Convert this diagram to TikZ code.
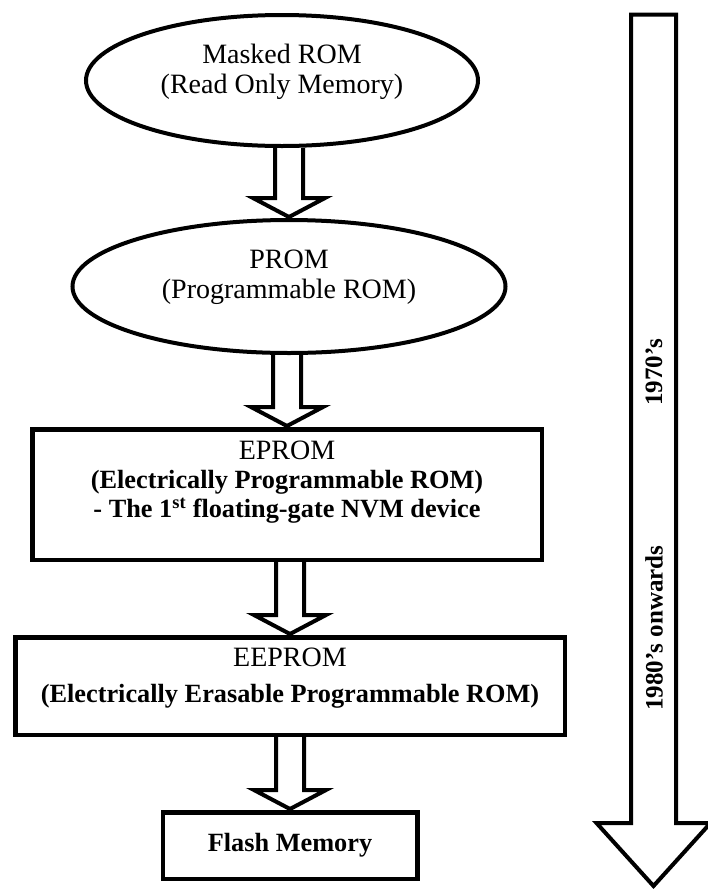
\documentclass[tikz,border=0pt]{standalone}
\usepackage{fontspec}
\setmainfont{Liberation Serif}
\usetikzlibrary{positioning,calc,shapes.geometric}

\newcommand{\bfline}[1]{{\fontsize{26.3}{28}\selectfont\bfseries #1}}
\newcommand{\downstrut}[1]{\rule[-#1]{0pt}{#1}}
% hollow block arrow from the bottom of #1 to the top of #2
\newcommand{\flowarrow}[2]{%
  \draw[hollowarrow] ($(#2.north |- #1.south)+(-14,0)$) -- ($(#2.north)+(-14,20)$)
    -- ($(#2.north)+(-36,20)$) -- ($(#2.north)+(0,1)$) -- ($(#2.north)+(36,20)$)
    -- ($(#2.north)+(14,20)$) -- ($(#2.north |- #1.south)+(14,0)$);}

\begin{document}
\begin{tikzpicture}[x=1pt,y=1pt,
    romshape/.style={ellipse, draw, line width=4pt, inner sep=2pt, align=center,
      font=\fontsize{28}{30}\selectfont},
    membox/.style={rectangle, draw, line width=4.5pt, inner sep=2pt, align=center,
      font=\fontsize{28}{28}\selectfont},
    hollowarrow/.style={line width=4pt, line join=miter},
    timeline/.style={draw, line width=4pt, line join=miter},
    erastext/.style={rotate=90, font=\fontsize{25}{25}\selectfont\bfseries}]

    \useasboundingbox (0,0) rectangle (708,-892);

    \node[romshape, minimum width=392pt, minimum height=131pt] (masked) at (282,-80.5)
        {Masked ROM\\(Read Only Memory)\downstrut{24pt}};
    \node[romshape, minimum width=433pt, minimum height=133pt, below=70pt of masked, xshift=7pt] (prom)
        {PROM\\(Programmable ROM)\downstrut{25.5pt}};
    \node[membox, minimum width=509.5pt, minimum height=130.5pt, below=72pt of prom, xshift=-2pt] (eprom)
        {EPROM\\[1pt]\bfline{(Electrically Programmable ROM)}\\[1pt]%
         \bfline{- The 1\textsuperscript{st} floating-gate NVM device}\downstrut{30.5pt}};
    \node[membox, minimum width=549.5pt, minimum height=97.5pt, below=73pt of eprom, xshift=3pt] (eeprom)
        {EEPROM\\[8pt]\bfline{(Electrically Erasable Programmable ROM)}\downstrut{22.5pt}};
    \node[membox, minimum width=254.5pt, minimum height=66.5pt, below=73pt of eeprom] (flash)
        {\bfline{Flash Memory}};

    \flowarrow{masked}{prom}
    \flowarrow{prom}{eprom}
    \flowarrow{eprom}{eeprom}
    \flowarrow{eeprom}{flash}

    % time line on the right
    \draw[timeline] (631,-14.5) -- (676,-14.5) -- (676,-823) -- (710.5,-823)
        -- (653.5,-886) -- (596.5,-823) -- (631,-823) -- cycle;
    \node[erastext] (seventies) at (654,-372) {1970's};
    \node[erastext] (eighties) at (654,-628) {1980's onwards};

\end{tikzpicture}
\end{document}
